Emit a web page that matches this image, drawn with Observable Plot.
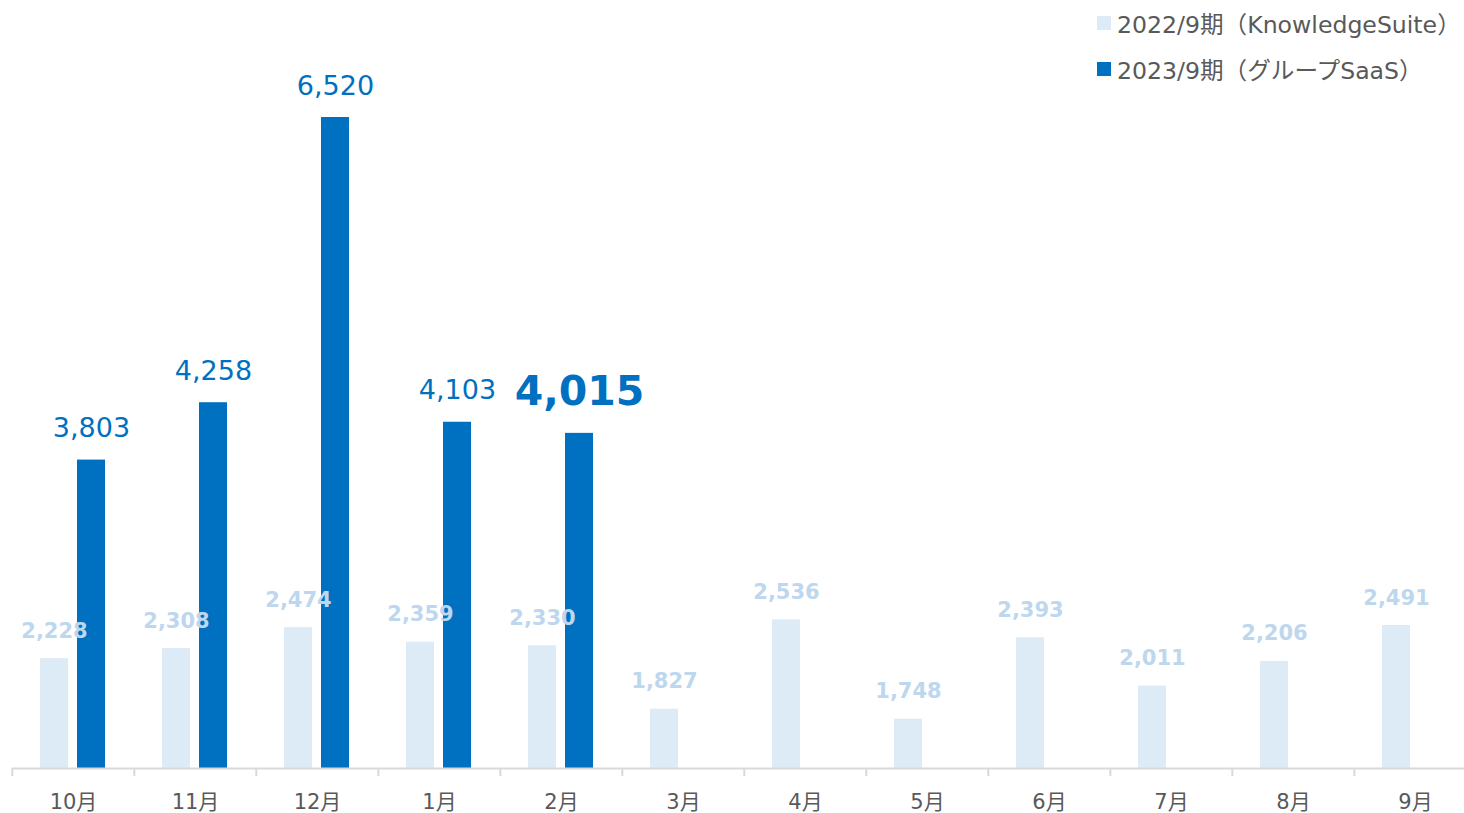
<!DOCTYPE html>
<html>
<head>
<meta charset="utf-8">
<script src="https://cdn.jsdelivr.net/npm/d3@7"></script>
<script src="https://cdn.jsdelivr.net/npm/@observablehq/plot@0.6"></script>
<style>
  html, body { margin: 0; padding: 0; background: #fff; }
  #wrap { position: relative; width: 1464px; height: 813px; overflow: hidden; }
  #legend { position: absolute; left: 1097px; top: 0px; font-family: "DejaVu Sans", "Noto Sans CJK JP", sans-serif; font-size: 23.6px; color: #595959; }
  #legend .row { display: flex; align-items: center; height: 46px; white-space: nowrap; }
  #legend .sw { width: 14px; height: 14px; margin-right: 6px; }
</style>
</head>
<body>
<div id="wrap">
  <div id="chart"></div>
  <div id="legend"></div>
</div>
<script>
const months = ["10月","11月","12月","1月","2月","3月","4月","5月","6月","7月","8月","9月"];
const seriesNames = ["2022/9期（KnowledgeSuite）", "2023/9期（グループSaaS）"];
const seriesColors = ["#DDEBF7", "#0070C0"];
const labelColors = ["#BDD7EE", "#0070C0"];
const fy2022 = [2228, 2308, 2474, 2359, 2330, 1827, 2536, 1748, 2393, 2011, 2206, 2491];
const fy2023 = [3803, 4258, 6520, 4103, 4015];
const highlightMonth = "2月";
const yBase = 1357;
const yMax = 6520;

const data = [];
months.forEach((m, i) => {
  data.push({month: m, series: seriesNames[0], value: fy2022[i]});
  if (fy2023[i] != null) data.push({month: m, series: seriesNames[1], value: fy2023[i]});
});

const W = 1464, H = 813, ML = 10, MR = -14, MT = 117, MB = 45;
const step = (W - ML - MR) / months.length;
const fmt = d3.format(",");
const font = '"DejaVu Sans", "Noto Sans CJK JP", sans-serif';

const chart = Plot.plot({
  width: W, height: H,
  marginLeft: ML, marginRight: MR, marginTop: MT, marginBottom: MB,
  style: {fontFamily: font, background: "transparent", overflow: "visible"},
  fx: {domain: months, padding: 0, label: null},
  x: {domain: seriesNames, paddingInner: 0.243, paddingOuter: 0.77, axis: null},
  y: {domain: [yBase, yMax], axis: null},
  color: {domain: seriesNames, range: seriesColors},
  marks: [
    Plot.barY(data, {fx: "month", x: "series", y1: yBase, y2: "value", fill: "series"}),
    Plot.ruleY([yBase], {stroke: "#D9D9D9", strokeWidth: 2}),
    Plot.axisFx({anchor: "bottom", tickSize: 8, text: null, dx: -step / 2, stroke: "#D9D9D9", strokeWidth: 2, strokeOpacity: 1, label: null}),
    Plot.axisFx({anchor: "bottom", tickSize: 0, tickPadding: 26, fontSize: 21, fill: "#595959", label: null}),
    Plot.text(data.filter(d => d.series === seriesNames[0]), {
      fx: "month", x: "series", y: "value", text: d => fmt(d.value),
      lineAnchor: "bottom", dy: -21, fontSize: 21, fontWeight: "bold", fill: labelColors[0]
    }),
    Plot.text(data.filter(d => d.series === seriesNames[1] && d.month !== highlightMonth), {
      fx: "month", x: "series", y: "value", text: d => fmt(d.value),
      lineAnchor: "bottom", dy: -23, fontSize: 27, fill: labelColors[1]
    }),
    Plot.text(data.filter(d => d.series === seriesNames[1] && d.month === highlightMonth), {
      fx: "month", x: "series", y: "value", text: d => fmt(d.value),
      lineAnchor: "bottom", dy: -28, fontSize: 41, fontWeight: "bold", fill: labelColors[1]
    })
  ]
});
document.getElementById("chart").appendChild(chart);

const legend = document.getElementById("legend");
seriesNames.forEach((name, i) => {
  const row = document.createElement("div");
  row.className = "row";
  const sw = document.createElement("div");
  sw.className = "sw";
  sw.style.background = seriesColors[i];
  const t = document.createElement("span");
  t.textContent = name;
  row.appendChild(sw); row.appendChild(t);
  legend.appendChild(row);
});
</script>
</body>
</html>
